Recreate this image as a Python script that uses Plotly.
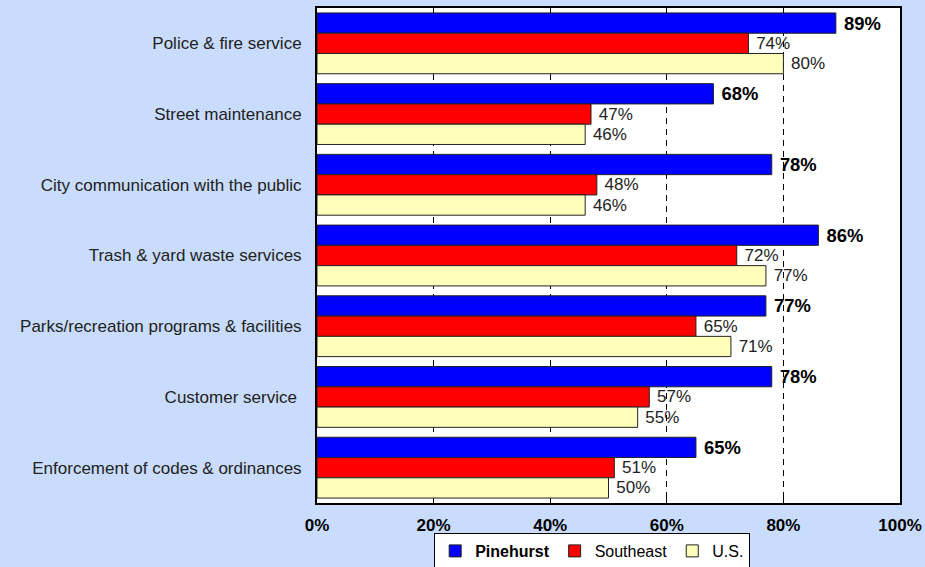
import plotly.graph_objects as go

# survey categories, top to bottom
categories = [
    "Police & fire service",
    "Street maintenance",
    "City communication with the public",
    "Trash & yard waste services",
    "Parks/recreation programs & facilities",
    "Customer service ",
    "Enforcement of codes & ordinances",
]
pinehurst = [89, 68, 78, 86, 77, 78, 65]
southeast = [74, 47, 48, 72, 65, 57, 51]
us = [80, 46, 46, 77, 71, 55, 50]
tick_vals = [0, 20, 40, 60, 80, 100]
tick_text = ["<b>0%</b>", "<b>20%</b>", "<b>40%</b>", "<b>60%</b>", "<b>80%</b>", "<b>100%</b>"]

fig = go.Figure()
fig.add_trace(go.Bar(y=categories, x=pinehurst, name="<b>Pinehurst</b>", orientation="h",
                     marker=dict(color="#0000FF", line=dict(color="#222", width=1)),
                     text=[f"&nbsp;<b>{v}%</b>" for v in pinehurst], textposition="outside",
                     textfont=dict(size=20, color="#000"), cliponaxis=False))
fig.add_trace(go.Bar(y=categories, x=southeast, name="Southeast", orientation="h",
                     marker=dict(color="#FF0000", line=dict(color="#222", width=1)),
                     text=[f"&nbsp;{v}%" for v in southeast], textposition="outside",
                     textfont=dict(size=17, color="#222"), cliponaxis=False))
fig.add_trace(go.Bar(y=categories, x=us, name="U.S.", orientation="h",
                     marker=dict(color="#FFFFBB", line=dict(color="#222", width=1)),
                     text=[f"&nbsp;{v}%" for v in us], textposition="outside",
                     textfont=dict(size=17, color="#222"), cliponaxis=False))

fig.update_layout(
    width=925, height=567,
    paper_bgcolor="#C9DCFC", plot_bgcolor="#FFFFFF",
    font=dict(family="Arial, Liberation Sans", size=17, color="#222"),
    barmode="group", bargap=0.14, bargroupgap=0,
    margin=dict(l=317, r=25, t=8, b=64, autoexpand=False),
    showlegend=True,
    legend=dict(orientation="h", x=0.472, xanchor="center",
                yref="container", y=0.06, yanchor="top",
                bgcolor="#FFFFFF", bordercolor="#000", borderwidth=1,
                font=dict(size=16, color="#000"), traceorder="normal",
                itemwidth=30, tracegroupgap=0),
    xaxis=dict(range=[0, 100], tickmode="array", tickvals=tick_vals, ticktext=tick_text,
               tickfont=dict(size=17, color="#000"),
               showgrid=True, gridcolor="#000", griddash="6px,5px", gridwidth=1,
               showline=True, linecolor="#000", linewidth=2, mirror="ticks",
               ticks="inside", ticklen=5, tickcolor="#000", zeroline=False,
               ticklabelstandoff=6),
    yaxis=dict(autorange="reversed", showline=True, linecolor="#000", linewidth=2,
               mirror=True, ticks="", tickfont=dict(size=17, color="#222"),
               ticklabelstandoff=10),
)

fig.write_html("out.html", config={"displayModeBar": False},
               post_script="document.body.style.margin='0';")
